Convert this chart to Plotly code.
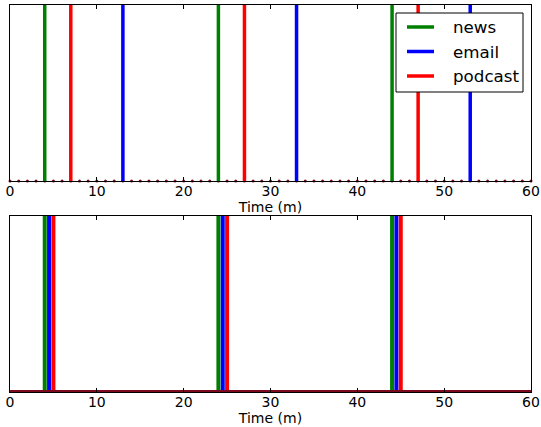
import plotly.graph_objects as go

# ---- data ----
series_names = ["news", "email", "podcast"]
series_colors = ["#008000", "#0000ff", "#ff0000"]
top_times = {
    "news": [4, 24, 44],
    "email": [13, 33, 53],
    "podcast": [7, 27, 47],
}
bottom_times = {
    "news": [4, 24, 44],
    "email": [4.5, 24.5, 44.5],
    "podcast": [5, 25, 45],
}
minute_grid = list(range(0, 61))
minute_zero = [0] * len(minute_grid)
baseline_x = [0, 60]
baseline_y = [0, 0]
x_ticks = [0, 10, 20, 30, 40, 50, 60]
x_label = "Time (m)"

W, H = 541, 427
ML, MR, MT, MB = 10, 10, 5, 35
PW, PH = W - ML - MR, H - MT - MB
base_color = "#7b0a1e"


def px_x(p):
    return (p - ML) / PW


def px_y(p):
    return (H - MB - p) / PH


def spikes(times):
    xs, ys = [], []
    for t in times:
        xs += [t, t, None]
        ys += [0, 1, None]
    return xs, ys


fig = go.Figure()

# top panel markers at each minute
fig.add_trace(go.Scatter(x=minute_grid, y=minute_zero, mode="markers",
                         marker=dict(color=base_color, size=3),
                         cliponaxis=False, showlegend=False,
                         xaxis="x", yaxis="y", hoverinfo="skip"))
for name, col in zip(series_names, series_colors):
    xs, ys = spikes(top_times[name])
    fig.add_trace(go.Scatter(x=xs, y=ys, mode="lines", name=name,
                             line=dict(color=col, width=3.5),
                             showlegend=False, xaxis="x", yaxis="y"))

# bottom panel
for name, col in zip(series_names, series_colors):
    xs, ys = spikes(bottom_times[name])
    fig.add_trace(go.Scatter(x=xs, y=ys, mode="lines", name=name,
                             line=dict(color=col, width=4),
                             showlegend=False, xaxis="x2", yaxis="y2"))
fig.add_trace(go.Scatter(x=baseline_x, y=baseline_y, mode="lines",
                         line=dict(color=base_color, width=4),
                         showlegend=False, xaxis="x2", yaxis="y2"))

top_dom = [px_y(181), 1]
bot_dom = [0, px_y(216)]

xaxis_common = dict(range=[0, 60], tickvals=x_ticks, ticks="inside", ticklen=4,
                    tickcolor="black", showline=True, linecolor="black",
                    linewidth=1, mirror="ticks", showgrid=False, zeroline=False,
                    automargin=False, ticklabelstandoff=-3,
                    tickfont=dict(family="DejaVu Sans", size=14, color="black"),
                    title=dict(text=x_label, standoff=0,
                               font=dict(family="DejaVu Sans", size=14, color="black")),
                    domain=[0, 1])
yaxis_common = dict(range=[0, 1], showticklabels=False, ticks="", showline=True,
                    linecolor="black", linewidth=1, mirror=True, showgrid=False,
                    zeroline=False, automargin=False)

fig.update_layout(
    template="none",
    width=W, height=H, margin=dict(l=ML, r=MR, t=MT, b=MB, autoexpand=False),
    plot_bgcolor="white", paper_bgcolor="white", showlegend=False,
    xaxis=dict(**xaxis_common, anchor="y"),
    yaxis=dict(**yaxis_common, domain=top_dom, anchor="x"),
    xaxis2=dict(**xaxis_common, anchor="y2"),
    yaxis2=dict(**yaxis_common, domain=bot_dom, anchor="x2"),
)

# manual legend (matplotlib-style box)
shapes = [dict(type="rect", xref="paper", yref="paper",
               x0=px_x(396), x1=px_x(523), y0=px_y(92), y1=px_y(13),
               line=dict(color="black", width=1), fillcolor="white", layer="above")]
annotations = []
for i, (name, col) in enumerate(zip(series_names, series_colors)):
    yp = px_y(27 + 24.5 * i)
    shapes.append(dict(type="line", xref="paper", yref="paper",
                       x0=px_x(407), x1=px_x(434), y0=yp, y1=yp,
                       line=dict(color=col, width=3.5), layer="above"))
    annotations.append(dict(xref="paper", yref="paper", x=px_x(451), y=yp,
                            text=name, showarrow=False, xanchor="left",
                            yanchor="middle",
                            font=dict(family="DejaVu Sans", size=16.7, color="black")))
fig.update_layout(shapes=shapes, annotations=annotations)

fig.write_html("out.html", config={"displayModeBar": False},
               post_script="document.body.style.margin='0';document.body.style.overflow='hidden';")
